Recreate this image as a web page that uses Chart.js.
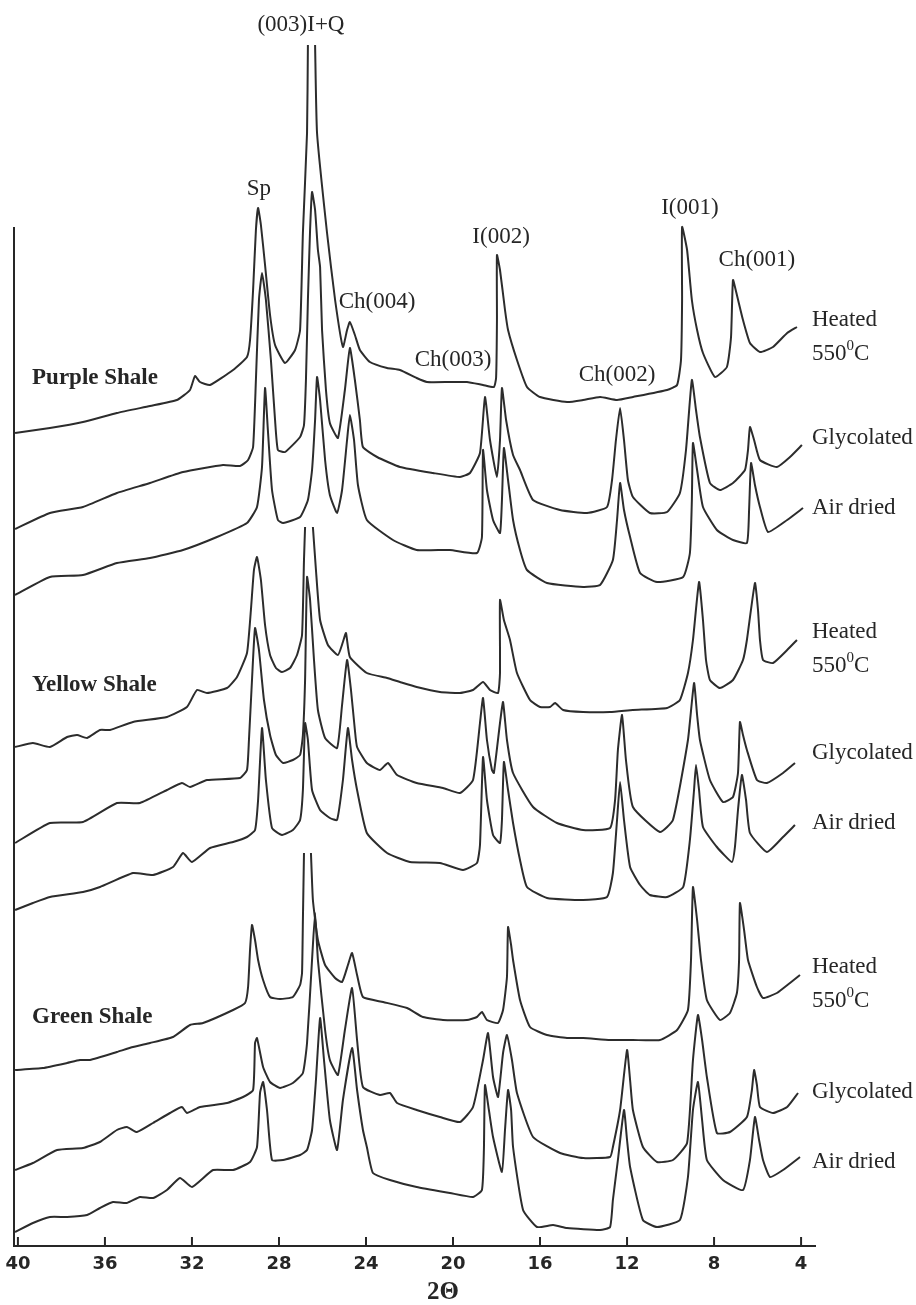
<!DOCTYPE html>
<html>
<head>
<meta charset="utf-8">
<title>XRD patterns of shales</title>
<script src="https://cdn.jsdelivr.net/npm/chart.js@4.4.1/dist/chart.umd.min.js"></script>
<style>
  html, body { margin: 0; padding: 0; background: #ffffff; }
  #wrap { width: 916px; height: 1305px; position: relative; }
  canvas { display: block; }
</style>
</head>
<body>
<div id="wrap"><canvas id="xrd" width="916" height="1305"></canvas></div>
<script>
// ---- 2-theta axis ----
const tickValues = [4, 8, 12, 16, 20, 24, 28, 32, 36, 40];

// ---- Purple shale ----
const thetaPurpleHeated = [40.13,38.53,37.01,35.45,33.93,32.69,32.09,31.86,31.63,31.17,30.11,29.47,29.33,29.19,29.06,28.96,28.83,28.64,28.41,28.18,27.72,27.26,27.03,26.90,26.71,26.67,26.50,26.34,26.25,25.79,25.42,25.06,24.87,24.74,24.51,24.28,23.82,23.03,22.44,21.67,21.20,20.14,19.36,18.62,18.12,18.02,17.98,17.98,17.84,17.61,17.47,17.06,16.60,16.00,14.76,14.02,13.24,12.46,11.73,10.16,9.70,9.52,9.47,9.47,9.24,9.02,8.78,8.51,7.96,7.41,7.22,7.13,6.95,6.67,6.35,5.89,5.29,4.64,4.19];
const countsPurpleHeated = [0,5,11,20,27,33,43,57,51,48,63,76,93,143,203,225,208,168,118,88,70,83,103,200,300,388,null,388,300,200,133,86,103,111,98,83,71,65,63,55,51,51,51,48,46,55,113,178,163,123,103,73,46,36,31,33,36,33,36,43,48,73,133,206,183,133,103,80,56,66,96,153,138,113,90,81,86,100,106];

const thetaPurpleGlycolated = [40.13,38.53,37.01,35.45,33.93,32.41,30.57,29.79,29.42,29.19,29.06,28.92,28.78,28.60,28.37,28.18,28.05,27.72,27.03,26.85,26.76,26.67,26.57,26.48,26.34,26.21,26.11,26.02,25.84,25.66,25.29,24.97,24.74,24.51,24.28,24.14,23.49,22.44,20.92,19.68,19.22,18.76,18.53,18.30,17.98,17.84,17.75,17.56,17.24,16.92,16.32,15.08,13.84,12.92,12.69,12.51,12.32,12.14,11.96,11.73,10.95,10.16,9.57,9.29,9.02,8.83,8.65,8.19,7.73,7.13,6.58,6.44,6.35,6.16,5.89,5.11,4.51,3.96];
const countsPurpleGlycolated = [0,16,22,36,46,57,64,63,69,82,149,229,256,229,169,109,79,77,92,104,149,229,299,337,319,279,262,199,139,106,91,139,181,149,109,82,72,62,56,52,56,76,132,89,52,89,141,109,74,59,29,19,16,22,49,89,121,89,49,32,16,17,36,79,149,119,92,46,39,46,59,79,102,89,69,62,72,84];

const thetaPurpleAirDried = [40.13,38.53,37.01,35.45,33.93,32.41,30.85,29.47,29.01,28.78,28.64,28.51,28.32,28.05,27.81,27.03,26.67,26.48,26.34,26.25,26.11,25.88,25.66,25.33,25.10,24.87,24.74,24.55,24.37,23.96,22.76,21.67,20.14,18.90,18.67,18.62,18.44,18.16,17.84,17.75,17.66,17.47,17.24,16.92,16.60,15.68,14.02,13.24,12.65,12.46,12.32,12.14,11.86,11.40,10.62,9.42,9.11,9.02,8.97,8.78,8.51,7.87,7.13,6.49,6.39,6.30,6.12,5.89,5.52,4.64,3.91];
const countsPurpleAirDried = [0,18,20,32,37,45,58,72,88,128,207,165,105,75,72,78,95,125,175,218,195,135,100,82,105,155,180,155,110,75,55,45,45,42,58,145,105,75,62,95,147,115,75,45,25,12,8,10,35,75,112,85,58,22,13,18,42,95,152,125,88,65,55,52,85,132,110,88,63,75,87];

// ---- Yellow shale ----
const thetaYellowHeated = [40.13,39.31,38.53,37.74,37.28,36.82,36.23,35.77,34.71,33.15,32.23,31.77,31.31,30.39,29.93,29.47,29.29,29.15,29.01,28.83,28.64,28.41,28.14,27.86,27.49,27.17,26.94,26.85,26.80,26.62,26.44,26.30,26.11,25.75,25.29,25.06,24.92,24.74,23.96,23.03,22.44,21.67,20.60,19.68,19.08,18.62,18.30,17.93,17.84,17.84,17.66,17.38,17.06,16.46,16.00,15.54,15.31,14.94,14.02,12.78,11.73,10.16,9.57,9.20,8.97,8.69,8.51,8.37,8.19,7.73,7.13,6.67,6.49,6.12,5.98,5.89,5.75,5.29,4.64,4.19];
const countsYellowHeated = [0,4,0,10,12,9,17,17,25,30,40,57,54,59,70,94,137,177,190,167,122,92,79,75,79,92,112,187,220,null,220,177,127,102,92,105,114,90,74,69,65,60,55,54,57,65,57,54,74,147,127,107,74,47,40,40,44,37,35,35,37,39,47,74,107,165,127,87,67,59,67,87,107,164,137,107,87,84,97,107];

const thetaYellowGlycolated = [40.13,38.53,37.01,35.45,34.39,33.15,32.46,32.09,31.31,29.79,29.47,29.38,29.24,29.10,28.92,28.69,28.41,28.14,27.81,27.36,27.03,26.90,26.80,26.71,26.57,26.39,26.21,25.88,25.33,25.10,24.87,24.69,24.51,24.41,23.96,23.36,22.99,22.57,21.67,20.46,19.68,19.08,18.76,18.62,18.44,18.21,18.12,17.84,17.70,17.52,17.24,16.32,15.22,14.02,12.78,12.55,12.42,12.23,12.05,11.73,10.49,9.89,9.20,8.92,8.78,8.65,8.19,7.59,7.13,6.90,6.81,6.67,6.49,6.03,5.57,4.83,4.28];
const countsYellowGlycolated = [0,20,21,40,40,53,60,56,63,65,73,103,163,215,193,143,108,88,80,83,88,108,163,266,243,183,133,105,95,138,183,153,113,96,80,73,80,68,60,55,50,63,120,145,103,73,70,120,141,103,70,36,20,13,15,43,93,128,83,36,11,23,103,160,128,103,63,41,46,70,121,108,93,63,60,70,80];

const thetaYellowAirDried = [40.13,39.31,38.53,37.01,36.23,34.71,33.79,32.87,32.41,32.00,31.17,30.11,29.47,29.10,28.96,28.78,28.60,28.32,27.86,27.36,27.03,26.90,26.80,26.67,26.48,26.11,25.66,25.33,25.06,24.83,24.64,24.41,23.96,23.03,21.98,20.60,19.54,18.90,18.76,18.62,18.44,18.16,17.84,17.75,17.66,17.47,17.24,16.92,16.60,15.68,14.02,12.92,12.65,12.46,12.32,12.14,11.86,11.40,10.95,10.16,9.42,9.11,8.92,8.83,8.69,8.51,7.87,7.18,7.04,6.90,6.72,6.53,6.35,5.57,4.83,4.28];
const countsYellowAirDried = [0,7,13,18,23,37,35,43,57,48,62,68,73,80,110,182,130,82,75,80,90,120,187,170,120,100,92,90,130,182,150,120,77,57,48,47,40,47,65,153,110,75,67,90,148,120,87,50,23,12,10,13,37,90,128,90,43,25,15,13,23,70,120,145,120,83,63,48,63,100,135,110,77,58,73,85];

// ---- Green shale ----
const thetaGreenHeated = [40.13,38.85,37.74,37.15,36.69,35.45,34.71,33.93,32.87,32.09,31.49,30.11,29.56,29.42,29.33,29.24,29.10,28.96,28.73,28.41,27.95,27.36,27.03,26.94,26.90,26.85,26.66,26.53,26.44,26.21,25.88,25.42,25.10,24.83,24.64,24.41,24.14,23.21,22.11,21.38,20.46,19.36,18.90,18.67,18.44,17.93,17.70,17.52,17.47,17.33,17.24,16.92,16.46,15.68,14.76,14.02,12.78,11.73,10.49,9.70,9.20,9.06,8.97,8.78,8.60,8.33,7.73,7.27,6.95,6.85,6.81,6.62,6.44,6.03,5.75,5.11,4.51,4.05];
const countsGreenHeated = [0,2,7,10,10,18,23,27,33,45,47,60,67,83,120,145,130,110,90,73,71,73,85,97,150,217,null,217,170,130,105,92,88,105,117,95,73,68,62,53,50,50,53,58,50,47,60,93,143,125,110,70,43,35,32,32,30,30,30,40,60,110,183,150,110,70,50,57,77,110,167,140,110,83,72,77,87,95];

const thetaGreenGlycolated = [40.13,39.31,38.20,37.01,36.23,35.45,34.99,34.53,33.79,33.01,32.46,32.23,31.63,30.39,29.65,29.19,29.10,29.01,28.73,28.41,27.95,27.36,26.90,26.71,26.48,26.34,26.21,25.88,25.66,25.29,24.97,24.64,24.41,24.14,23.36,22.90,22.57,21.67,20.60,19.68,19.08,18.62,18.39,18.16,17.93,17.70,17.52,17.29,17.06,16.32,15.08,14.02,12.78,12.65,12.32,12.00,11.86,11.73,11.27,10.62,9.89,9.24,8.97,8.74,8.55,8.33,7.87,7.27,6.49,6.26,6.16,6.03,5.89,5.29,4.64,4.14];
const countsGreenGlycolated = [0,7,20,22,28,40,43,38,47,57,63,57,63,67,73,80,127,132,103,88,82,87,97,127,210,257,210,140,110,95,140,182,130,83,75,77,67,60,53,48,63,110,137,93,73,117,135,110,77,33,17,12,13,23,60,120,90,60,23,8,10,27,110,155,130,93,37,38,53,80,100,85,63,57,63,77];

const thetaGreenAirDried = [40.13,39.31,38.53,37.74,36.82,36.23,35.63,34.99,34.39,33.79,33.15,32.55,32.00,31.03,30.11,29.33,29.01,28.87,28.73,28.55,28.32,27.81,27.03,26.71,26.48,26.30,26.11,25.93,25.66,25.33,25.06,24.64,24.41,24.14,23.96,23.68,22.90,21.67,20.14,19.08,18.67,18.58,18.53,18.35,18.16,17.75,17.61,17.47,17.33,17.24,16.78,16.14,15.40,14.76,13.24,12.78,12.65,12.42,12.14,12.00,11.86,11.27,10.62,9.57,9.20,8.97,8.74,8.55,8.33,7.59,6.67,6.35,6.12,5.93,5.75,5.43,4.83,4.05];
const countsGreenAirDried = [0,9,15,15,17,24,30,29,35,34,42,54,45,62,62,70,85,139,150,122,72,72,77,82,102,152,214,172,112,82,132,184,142,102,85,59,52,45,39,35,42,82,147,122,95,60,102,142,122,85,22,5,7,4,2,5,32,72,122,92,65,12,5,12,55,122,150,112,72,52,42,72,115,92,72,55,62,75];

// vertical stacking shift of each pattern (same order as the lists below)
const stackOffsets = [813, 717, 651, 499, 403, 336, 176, 76, 14];
const thetaLists = [thetaPurpleHeated, thetaPurpleGlycolated, thetaPurpleAirDried,
                    thetaYellowHeated, thetaYellowGlycolated, thetaYellowAirDried,
                    thetaGreenHeated, thetaGreenGlycolated, thetaGreenAirDried];
const countLists = [countsPurpleHeated, countsPurpleGlycolated, countsPurpleAirDried,
                    countsYellowHeated, countsYellowGlycolated, countsYellowAirDried,
                    countsGreenHeated, countsGreenGlycolated, countsGreenAirDried];
const treatmentNames = ['Heated', 'Glycolated', 'Air dried',
                        'Heated', 'Glycolated', 'Air dried',
                        'Heated', 'Glycolated', 'Air dried'];
const treatmentLevels = [926, 808, 738, 614, 493, 423, 279, 154, 84];

// ---- annotations ----
const shaleNames = ['Purple Shale', 'Yellow Shale', 'Green Shale'];
const shaleLevels = [868, 561, 229];
const peakNames = ['(003)I+Q', 'Sp', 'Ch(004)', 'Ch(003)', 'I(002)', 'Ch(002)', 'I(001)', 'Ch(001)'];
const peakTheta = [26.99, 28.92, 23.49, 20.00, 17.79, 12.46, 9.11, 6.03];
const peakLevels = [1221, 1057, 944, 886, 1009, 871, 1038, 986];

const INK = '#262626';

const datasets = thetaLists.map((th, i) => ({
  label: treatmentNames[i],
  data: th.map((t, j) => ({ x: t, y: countLists[i][j] === null ? null : countLists[i][j] + stackOffsets[i] })),
  borderColor: '#2c2c2c',
  borderWidth: 2,
  pointRadius: 0,
  tension: 0.15,
  fill: false,
  spanGaps: false,
  clip: false
}));

const annotations = {
  id: 'annotations',
  afterDraw(chart) {
    const { ctx, chartArea, scales: { x, y } } = chart;
    ctx.save();
    // inward tick marks on the 2-theta axis
    ctx.strokeStyle = INK;
    ctx.lineWidth = 2;
    tickValues.forEach(v => {
      const px = x.getPixelForValue(v);
      ctx.beginPath();
      ctx.moveTo(px, chartArea.bottom);
      ctx.lineTo(px, chartArea.bottom - 9);
      ctx.stroke();
    });

    ctx.fillStyle = INK;
    ctx.textBaseline = 'middle';

    // reflection labels
    ctx.font = '23px "Liberation Serif"';
    ctx.textAlign = 'center';
    peakNames.forEach((n, i) => {
      ctx.fillText(n, x.getPixelForValue(peakTheta[i]), y.getPixelForValue(peakLevels[i]));
    });

    // treatment labels on the right
    ctx.textAlign = 'left';
    const labelX = x.getPixelForValue(3.5);
    treatmentNames.forEach((n, i) => {
      const py = y.getPixelForValue(treatmentLevels[i]);
      ctx.font = '23px "Liberation Serif"';
      ctx.fillText(n, labelX, py);
      if (n === 'Heated') {
        const py2 = py + 34;
        let cx = labelX;
        ctx.fillText('550', cx, py2);
        cx += ctx.measureText('550').width;
        ctx.font = '15px "Liberation Serif"';
        ctx.fillText('0', cx, py2 - 8);
        cx += ctx.measureText('0').width;
        ctx.font = '23px "Liberation Serif"';
        ctx.fillText('C', cx, py2);
      }
    });

    // shale names
    ctx.font = 'bold 23px "Liberation Serif"';
    shaleNames.forEach((n, i) => {
      ctx.fillText(n, x.getPixelForValue(39.35), y.getPixelForValue(shaleLevels[i]));
    });

    // axis title
    ctx.font = 'bold 25px "Liberation Serif"';
    ctx.textAlign = 'center';
    ctx.fillText('2\u0398', x.getPixelForValue(20.46), chartArea.bottom + 47);
    ctx.restore();
  }
};

new Chart(document.getElementById('xrd'), {
  type: 'line',
  data: { datasets },
  options: {
    responsive: false,
    animation: false,
    devicePixelRatio: 1,
    layout: { padding: { left: 14, right: 101, top: 228, bottom: 29 } },
    plugins: { legend: { display: false }, tooltip: { enabled: false } },
    scales: {
      x: {
        type: 'linear',
        reverse: true,
        min: 3.36,
        max: 40.18,
        afterBuildTicks: (s) => { s.ticks = tickValues.map(v => ({ value: v })); },
        afterFit: (s) => { s.height = 30; },
        grid: { display: false, drawTicks: false },
        border: { display: true, color: INK, width: 2 },
        ticks: {
          color: INK,
          padding: 8,
          maxRotation: 0,
          autoSkip: false,
          font: { family: 'DejaVu Sans', size: 18, weight: 'bold' },
          callback: (v) => String(v)
        }
      },
      y: {
        type: 'linear',
        min: 0,
        max: 1018,
        afterFit: (s) => { s.width = 0; },
        grid: { display: false, drawTicks: false },
        border: { display: true, color: INK, width: 2 },
        ticks: { display: false }
      }
    }
  },
  plugins: [annotations]
});
</script>
</body>
</html>
